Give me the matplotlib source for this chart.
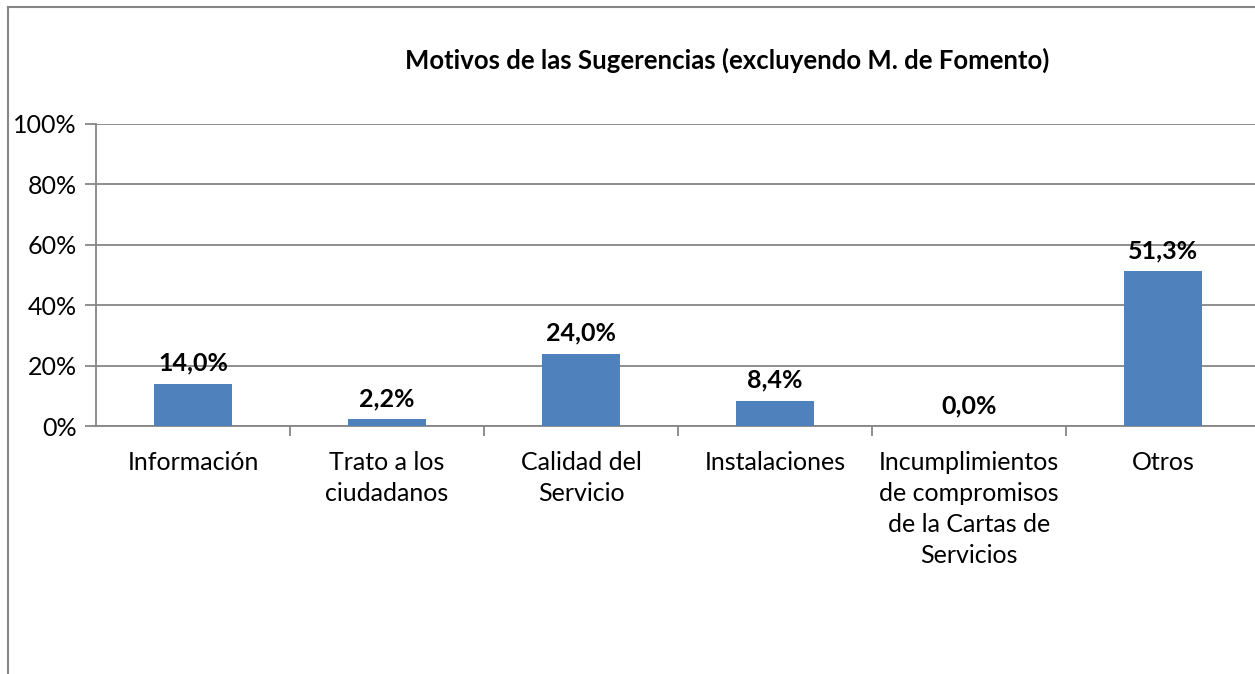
import matplotlib.pyplot as plt
from matplotlib.lines import Line2D

categories = ["Información", "Trato a los\nciudadanos", "Calidad del\nServicio",
              "Instalaciones", "Incumplimientos\nde compromisos\nde la Cartas de\nServicios", "Otros"]
values = [14.0, 2.2, 24.0, 8.4, 0.0, 51.3]
yticks = [0, 20, 40, 60, 80, 100]

plt.rcParams['font.family'] = ['Lato', 'DejaVu Sans']

fig = plt.figure(figsize=(12.55, 6.74), dpi=100)
ax = fig.add_axes([96 / 1255, 1 - 426 / 674, 1164 / 1255, 302 / 674])

grey = '#868686'
x = range(len(categories))
ax.bar(x, values, width=0.4, color='#4F81BD', zorder=3)
for xi, v in zip(x, values):
    ax.text(xi, v + 3, f"{v:.1f}%".replace('.', ','), ha='center', va='bottom',
            fontsize=18, fontweight='bold', zorder=4)

ax.set_xlim(-0.5, len(categories) - 0.5)
ax.set_ylim(0, 100)
ax.set_yticks(yticks)
ax.set_yticklabels([f"{t}%" for t in yticks], fontsize=18)
ax.yaxis.grid(True, color=grey, linewidth=1.3, zorder=0)

ax.set_xticks(list(x))
ax.set_xticklabels(categories, fontsize=18, linespacing=1.42)
ax.tick_params(axis='x', length=0, pad=18)
ax.set_xticks([i + 0.5 for i in range(len(categories))], minor=True)
ax.tick_params(axis='x', which='minor', length=7, color=grey, width=1.3)
ax.tick_params(axis='y', length=8, color=grey, width=1.3, pad=6)

for s in ['top', 'right']:
    ax.spines[s].set_visible(False)
for s in ['left', 'bottom']:
    ax.spines[s].set_color(grey)
    ax.spines[s].set_linewidth(1.3)

fig.text(727 / 1255, 1 - 60 / 674, "Motivos de las Sugerencias (excluyendo M. de Fomento)",
         ha='center', va='center', fontsize=18.5, fontweight='bold')

# chart border (left and top edges visible)
fig.add_artist(Line2D([8 / 1255, 8 / 1255], [0, 1 - 7 / 674], transform=fig.transFigure,
                      color=grey, linewidth=1.5))
fig.add_artist(Line2D([8 / 1255, 1], [1 - 7 / 674, 1 - 7 / 674], transform=fig.transFigure,
                      color=grey, linewidth=1.5))

fig.savefig('out.png', dpi=100)
